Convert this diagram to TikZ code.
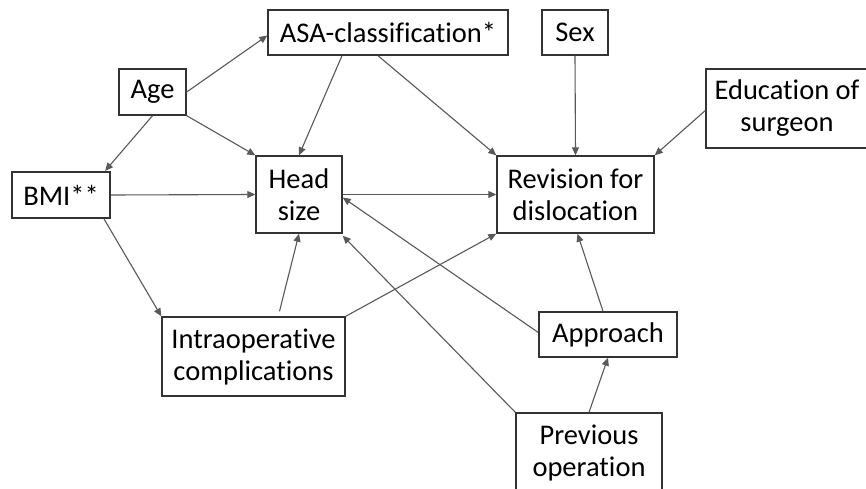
\documentclass[tikz,border=0pt]{standalone}
\usepackage{fontspec}
\setmainfont[Ligatures=NoCommon]{Carlito}
\usetikzlibrary{arrows.meta,calc}
\begin{document}
\begin{tikzpicture}[x=1pt,y=-1pt,
  box/.style={draw=black!80,line width=1.4pt,fill=white,inner sep=0pt,align=center,
    font=\fontsize{28.5}{32}\selectfont},
  conn/.style={draw=black!65,line width=1.1pt,-{Triangle[length=8pt,width=7pt]}}]
\useasboundingbox (0,0) rectangle (866,489);
\clip (0,0) rectangle (866,489);
\fill[white] (0,0) rectangle (866,489);
\node[box,minimum width=240pt,minimum height=45pt] (asa) at (388,32.5) {ASA-classification*};
\node[box,minimum width=67pt,minimum height=46pt] (age) at (152.5,92) {Age};
\node[box,line width=2.2pt,minimum width=98pt,minimum height=46pt] (bmi) at (61,195) {BMI**};
\node[box,minimum width=86pt,minimum height=77pt] (head) at (299,194.5) {Head\\size};
\node[box,minimum width=66pt,minimum height=45pt] (sex) at (575,32.5) {Sex};
\node[box,minimum width=162pt,minimum height=79pt] (edu) at (787,108.5) {Education of\\surgeon};
\node[box,minimum width=157pt,minimum height=77pt] (rev) at (575.5,194.5) {Revision for\\dislocation};
\node[box,minimum width=183pt,minimum height=79pt] (intra) at (253.5,356.5) {Intraoperative\\complications};
\node[box,minimum width=138pt,minimum height=45pt] (appr) at (608,334.5) {Approach};
\node[box,minimum width=146pt,minimum height=79pt] (prev) at (589,452.5) {Previous\\operation};

\draw[conn] (age.east) -- ([yshift=-3pt]asa.west);
\draw[conn] (age.south) -- ([xshift=-6pt]bmi.north east);
\draw[conn] (age.south east) -- (head.north west);
\draw[conn] ([xshift=-46pt]asa.south) -- (head.north);
\draw[conn] ([xshift=-10pt]asa.south) -- (rev.north west);
\draw[conn] (sex.south) -- (rev.north);
\draw[conn] ([yshift=-2pt]edu.west) -- (rev.north east);
\draw[conn] (bmi.east) -- (head.west);
\draw[conn] (head.east) -- (rev.west);
\draw[conn] ([yshift=2pt]appr.west) -- ([yshift=-3pt]head.east);
\draw[conn] (prev.north west) -- ([yshift=-2pt]head.south east);
\draw[conn] ([xshift=26pt,yshift=5pt]intra.north) -- (head.south);
\draw[conn] (intra.north east) -- (rev.south west);
\draw[conn] ([xshift=-7pt]bmi.south east) -- (intra.north west);
\draw[conn] ([xshift=-5pt]appr.north) -- ([xshift=2pt]rev.south);
\draw[conn] (prev.north) -- (appr.south);
\end{tikzpicture}
\end{document}
